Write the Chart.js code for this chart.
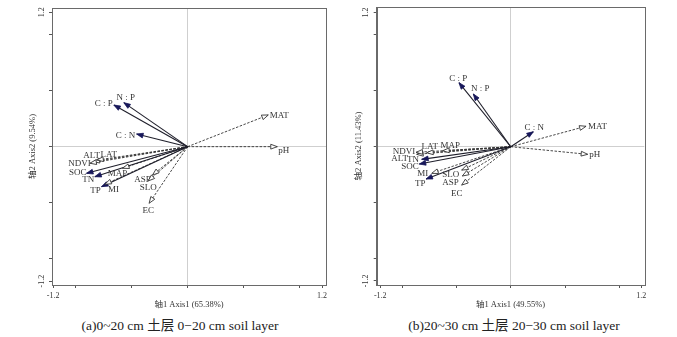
<!DOCTYPE html>
<html>
<head>
<meta charset="utf-8">
<script src="https://cdn.jsdelivr.net/npm/chart.js@4.4.1/dist/chart.umd.min.js"></script>
<style>
html,body{margin:0;padding:0;background:#fff;}
#wrap{position:relative;width:677px;height:337px;background:#fff;overflow:hidden;}
.panel{position:absolute;top:0;height:316px;}
.cap{position:absolute;top:317px;width:300px;text-align:center;font-family:'Liberation Serif','Times New Roman','DejaVu Serif','Noto Sans CJK SC',serif;font-size:13.5px;color:#222;white-space:nowrap;line-height:18px;}
</style>
</head>
<body>
<div id="wrap">
  <div class="panel" style="left:0;width:338px;"><canvas id="c1"></canvas></div>
  <div class="panel" style="left:338px;width:339px;"><canvas id="c2"></canvas></div>
  <div class="cap" id="capA" style="left:30px;"></div>
  <div class="cap" id="capB" style="left:364px;"></div>
</div>
<script>
// ---------------- DATA ----------------
const varNames = ['C : N','C : P','N : P','SOC','TN','TP','MAT','pH','ALT','LAT','NDVI','MAP','MI','ASP','SLO','EC'];
const varKind  = ['resp','resp','resp','resp','resp','resp','env','env','env','env','env','env','env','env','env','env'];

// (a) 0-20 cm
const axis1A = [-0.455,-0.658,-0.569,-0.902,-0.828,-0.768, 0.720, 0.800,-0.843,-0.810,-0.872,-0.580,-0.738,-0.313,-0.352,-0.343];
const axis2A = [ 0.113, 0.372, 0.393,-0.238,-0.268,-0.357, 0.283, 0.000,-0.134,-0.120,-0.148,-0.193,-0.336,-0.253,-0.306,-0.505];
// (b) 20-30 cm
const axis1B = [ 0.208,-0.476,-0.344,-0.841,-0.819,-0.779, 0.693, 0.708,-0.865,-0.773,-0.871,-0.626,-0.727,-0.445,-0.451,-0.451];
const axis2B = [ 0.134, 0.573, 0.472,-0.155,-0.113,-0.289, 0.183,-0.068,-0.068,-0.054,-0.050,-0.036,-0.238,-0.262,-0.209,-0.343];

const tickValues = [-1.2,-1,-0.5,0,0.5,1,1.2];
const tickLabels = ['-1.2','','','','','','1.2'];

const xTitleA = '轴1 Axis1 (65.38%)', yTitleA = '轴2 Axis2 (9.54%)';
const xTitleB = '轴1 Axis1 (49.55%)', yTitleB = '轴2 Axis2 (11.43%)';
const captionA = '(a)0~20 cm 土层 0−20 cm soil layer';
const captionB = '(b)20~30 cm 土层 20−30 cm soil layer';

// ---------------- LAYOUT / STYLE (label placement in px, not data) ----------------
const labelOffsetsA = {
  'C : N':[-11,2],'C : P':[-10,-1],'N : P':[2,-5.4],'SOC':[-8.7,-0.6],'TN':[-6.5,2.7],'TP':[-6,4.4],
  'MAT':[11,0.7],'pH':[6.4,4],'ALT':[-1.5,-5.7],'LAT':[12,-5],'NDVI':[-10.5,0.7],'MAP':[-5,5.7],
  'MI':[8.7,5.7],'ASP':[-10,5],'SLO':[0,6.7],'EC':[-1,7.4]
};
const labelOffsetsB = {
  'C : N':[1,-4],'C : P':[-0.7,-4],'N : P':[7,-5.7],'SOC':[-9.3,2.7],'TN':[-8.7,0.7],'TP':[-5.7,4.3],
  'MAT':[11.5,0],'pH':[7,0],'ALT':[-17,4],'LAT':[3,-6],'NDVI':[-12,-1],'MAP':[7.5,-4.7],
  'MI':[-9,0],'ASP':[-11.8,6.7],'SLO':[-11,5],'EC':[-5,8.3]
};

const FONT = "'Liberation Serif','Times New Roman','DejaVu Serif','Noto Sans CJK SC',serif";
Chart.defaults.font.family = FONT;
Chart.defaults.color = '#333';

document.getElementById('capA').textContent = captionA;
document.getElementById('capB').textContent = captionB;

const arrowPlugin = {
  id:'arrows',
  afterDatasetsDraw(chart, args, opts){
    const ctx = chart.ctx;
    const offs = opts.offsets || {};
    chart.data.datasets.forEach((ds, i) => {
      const meta = chart.getDatasetMeta(i);
      if (!meta || meta.data.length < 2) return;
      const p0 = meta.data[0], p1 = meta.data[1];
      const ang = Math.atan2(p1.y - p0.y, p1.x - p0.x);
      const L = 6.5, W = 2.4;
      const bx = p1.x - L*Math.cos(ang), by = p1.y - L*Math.sin(ang);
      const nx = -Math.sin(ang)*W, ny = Math.cos(ang)*W;
      ctx.save();
      ctx.setLineDash([]);
      ctx.beginPath();
      ctx.moveTo(p1.x, p1.y);
      ctx.lineTo(bx + nx, by + ny);
      ctx.lineTo(bx - nx, by - ny);
      ctx.closePath();
      if (ds.kind === 'resp') {
        ctx.fillStyle = '#17175a';
        ctx.fill();
        ctx.strokeStyle = '#17175a';
        ctx.lineWidth = 0.8;
        ctx.stroke();
      } else {
        ctx.fillStyle = '#fff';
        ctx.fill();
        ctx.strokeStyle = '#333';
        ctx.lineWidth = 0.9;
        ctx.stroke();
      }
      const o = offs[ds.label] || [0,0];
      ctx.font = "9px " + FONT;
      ctx.fillStyle = '#333';
      ctx.textAlign = 'center';
      ctx.textBaseline = 'middle';
      ctx.fillText(ds.label, p1.x + o[0], p1.y + o[1]);
      ctx.restore();
    });
  }
};

const boxPlugin = {
  id:'box',
  afterDraw(chart){
    const a = chart.chartArea, ctx = chart.ctx;
    ctx.save();
    ctx.strokeStyle = '#6a6a6a';
    ctx.lineWidth = 1;
    ctx.strokeRect(Math.round(a.left)+0.5, Math.round(a.top)+0.5, Math.round(a.right-a.left), Math.round(a.bottom-a.top));
    ctx.restore();
  }
};

function makeScale(title, min, max, isY, fitSize, titlePad){
  return {
    type:'linear', min, max,
    afterBuildTicks: s => { s.ticks = tickValues.map(v => ({value:v})); },
    afterFit: s => { if (isY) s.width = fitSize; else s.height = fitSize; },
    ticks: {
      autoSkip:false,
      callback: v => { const k = tickValues.indexOf(v); return k >= 0 ? tickLabels[k] : ''; },
      font:{size:8}, color:'#333', padding: isY ? 1 : 3,
      minRotation: isY ? 90 : 0, maxRotation: isY ? 90 : 0,
      crossAlign: isY ? 'center' : 'near'
    },
    grid: {
      color: c => (c.tick && c.tick.value === 0) ? '#cfcfcf' : 'rgba(0,0,0,0)',
      tickColor:'#555', tickLength:3, lineWidth:1
    },
    border: {display:true, color:'#6a6a6a'},
    title: {display:true, text:title, font:{size:8.5}, color:'#333', padding:titlePad}
  };
}

function makeChart(id, xs, ys, offsets, xTitle, yTitle, cfg){
  const datasets = varNames.map((n, i) => ({
    label:n, kind:varKind[i],
    data:[{x:0,y:0},{x:xs[i],y:ys[i]}],
    showLine:true, pointRadius:0, pointHoverRadius:0,
    borderColor: varKind[i] === 'resp' ? '#1e1e2a' : '#333',
    borderWidth: varKind[i] === 'resp' ? 1.1 : 0.9,
    borderDash: varKind[i] === 'resp' ? [] : [2.5,1.5],
    fill:false
  }));
  return new Chart(document.getElementById(id), {
    type:'scatter',
    data:{datasets},
    options:{
      responsive:true, maintainAspectRatio:false, animation:false,
      layout:{padding:cfg.pad},
      plugins:{legend:{display:false}, tooltip:{enabled:false}, arrows:{offsets}},
      scales:{
        x: makeScale(xTitle, cfg.xmin, cfg.xmax, false, cfg.xh, {top:0,bottom:cfg.xtp}),
        y: makeScale(yTitle, cfg.ymin, cfg.ymax, true, cfg.yw, {top:cfg.ytp,bottom:0})
      }
    },
    plugins:[arrowPlugin, boxPlugin]
  });
}

makeChart('c1', axis1A, axis2A, labelOffsetsA, xTitleA, yTitleA,
  {pad:{left:22,right:12,top:8,bottom:0}, xmin:-1.21, xmax:1.235, ymin:-1.235, ymax:1.238, xh:31, yw:30, xtp:6, ytp:5.2});
makeChart('c2', axis1B, axis2B, labelOffsetsB, xTitleB, yTitleB,
  {pad:{left:10,right:32.7,top:7,bottom:0}, xmin:-1.233, xmax:1.229, ymin:-1.237, ymax:1.25, xh:31, yw:28.7, xtp:6, ytp:5.2});
</script>
</body>
</html>
